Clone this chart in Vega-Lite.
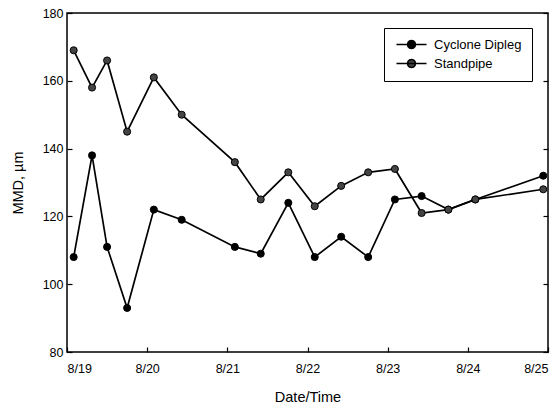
{
  "$schema": "https://vega.github.io/schema/vega-lite/v6.json",
  "width": 481,
  "height": 339,
  "autosize": "none",
  "padding": {"left": 67, "top": 13, "right": 10, "bottom": 54},
  "background": "white",
  "config": {
    "font": "Liberation Sans",
    "view": {"stroke": "black", "strokeWidth": 1.5},
    "axis": {
      "grid": false,
      "domain": false,
      "tickColor": "black",
      "tickSize": -5,
      "tickWidth": 1.2,
      "labelColor": "black",
      "labelFontSize": 12.5,
      "titleColor": "black",
      "titleFontWeight": "normal",
      "titleFontSize": 14.5
    }
  },
  "data": {
    "values": [
      {"time": "1995-08-19T02:00", "series": "Cyclone Dipleg", "mmd": 108},
      {"time": "1995-08-19T07:30", "series": "Cyclone Dipleg", "mmd": 138},
      {"time": "1995-08-19T12:00", "series": "Cyclone Dipleg", "mmd": 111},
      {"time": "1995-08-19T18:00", "series": "Cyclone Dipleg", "mmd": 93},
      {"time": "1995-08-20T02:00", "series": "Cyclone Dipleg", "mmd": 122},
      {"time": "1995-08-20T10:20", "series": "Cyclone Dipleg", "mmd": 119},
      {"time": "1995-08-21T02:15", "series": "Cyclone Dipleg", "mmd": 111},
      {"time": "1995-08-21T10:00", "series": "Cyclone Dipleg", "mmd": 109},
      {"time": "1995-08-21T18:15", "series": "Cyclone Dipleg", "mmd": 124},
      {"time": "1995-08-22T02:10", "series": "Cyclone Dipleg", "mmd": 108},
      {"time": "1995-08-22T10:05", "series": "Cyclone Dipleg", "mmd": 114},
      {"time": "1995-08-22T18:10", "series": "Cyclone Dipleg", "mmd": 108},
      {"time": "1995-08-23T02:10", "series": "Cyclone Dipleg", "mmd": 125},
      {"time": "1995-08-23T10:10", "series": "Cyclone Dipleg", "mmd": 126},
      {"time": "1995-08-23T18:10", "series": "Cyclone Dipleg", "mmd": 122},
      {"time": "1995-08-24T02:15", "series": "Cyclone Dipleg", "mmd": 125},
      {"time": "1995-08-24T22:35", "series": "Cyclone Dipleg", "mmd": 132},
      {"time": "1995-08-19T02:00", "series": "Standpipe", "mmd": 169},
      {"time": "1995-08-19T07:30", "series": "Standpipe", "mmd": 158},
      {"time": "1995-08-19T12:00", "series": "Standpipe", "mmd": 166},
      {"time": "1995-08-19T18:00", "series": "Standpipe", "mmd": 145},
      {"time": "1995-08-20T02:00", "series": "Standpipe", "mmd": 161},
      {"time": "1995-08-20T10:20", "series": "Standpipe", "mmd": 150},
      {"time": "1995-08-21T02:15", "series": "Standpipe", "mmd": 136},
      {"time": "1995-08-21T10:00", "series": "Standpipe", "mmd": 125},
      {"time": "1995-08-21T18:15", "series": "Standpipe", "mmd": 133},
      {"time": "1995-08-22T02:10", "series": "Standpipe", "mmd": 123},
      {"time": "1995-08-22T10:05", "series": "Standpipe", "mmd": 129},
      {"time": "1995-08-22T18:10", "series": "Standpipe", "mmd": 133},
      {"time": "1995-08-23T02:10", "series": "Standpipe", "mmd": 134},
      {"time": "1995-08-23T10:10", "series": "Standpipe", "mmd": 121},
      {"time": "1995-08-23T18:10", "series": "Standpipe", "mmd": 122},
      {"time": "1995-08-24T02:15", "series": "Standpipe", "mmd": 125},
      {"time": "1995-08-24T22:35", "series": "Standpipe", "mmd": 128}
    ]
  },
  "layer": [
    {
      "layer": [
        {
          "mark": {"type": "line", "stroke": "black", "strokeWidth": 1.7},
          "encoding": {
            "x": {"field": "time", "type": "temporal",
              "scale": {"domain": [{"year": 1995, "month": 8, "date": 19}, {"year": 1995, "month": 8, "date": 25}]},
              "axis": {"title": "Date/Time", "format": "%-m/%-d", "labelPadding": 15, "titlePadding": 16,
                "values": [{"year": 1995, "month": 8, "date": 19}, {"year": 1995, "month": 8, "date": 20}, {"year": 1995, "month": 8, "date": 21}, {"year": 1995, "month": 8, "date": 22}, {"year": 1995, "month": 8, "date": 23}, {"year": 1995, "month": 8, "date": 24}, {"year": 1995, "month": 8, "date": 25}]}},
            "y": {"field": "mmd", "type": "quantitative",
              "scale": {"domain": [80, 180], "nice": false, "zero": false},
              "axis": {"title": "MMD, µm", "values": [80, 100, 120, 140, 160, 180], "labelPadding": 9, "titlePadding": 17}},
            "detail": {"field": "series"}
          }
        },
        {
          "mark": {"type": "point", "filled": true, "size": 50, "stroke": "black", "strokeWidth": 1, "opacity": 1},
          "encoding": {
            "x": {"field": "time", "type": "temporal"},
            "y": {"field": "mmd", "type": "quantitative"},
            "fill": {"field": "series", "type": "nominal",
              "scale": {"domain": ["Cyclone Dipleg", "Standpipe"], "range": ["#000000", "#444444"]},
              "legend": {
                "title": null,
                "orient": "none",
                "legendX": 317,
                "legendY": 15,
                "strokeColor": "black",
                "fillColor": "white",
                "padding": 10,
                "symbolOffset": 11,
                "symbolType": "M-3,0L3,0M0.8,0L0.693,0.4L0.4,0.693L0,0.8L-0.4,0.693L-0.693,0.4L-0.8,0L-0.693,-0.4L-0.4,-0.693L0,-0.8L0.4,-0.693L0.693,-0.4Z",
                "symbolSize": 100,
                "symbolStrokeColor": "black",
                "symbolStrokeWidth": 1.5,
                "symbolOpacity": 1,
                "labelFontSize": 13,
                "labelColor": "black",
                "labelOffset": 16,
                "rowPadding": 4
              }}
          }
        }
      ]
    },
    {
      "mark": {"type": "point", "opacity": 0},
      "encoding": {
        "x": {"field": "time", "type": "temporal"},
        "y": {"field": "mmd", "type": "quantitative",
          "scale": {"domain": [80, 180], "nice": false, "zero": false},
          "axis": {"orient": "right", "labels": false, "title": null, "values": [80, 100, 120, 140, 160, 180]}}
      }
    }
  ],
  "resolve": {"scale": {"y": "independent"}}
}
